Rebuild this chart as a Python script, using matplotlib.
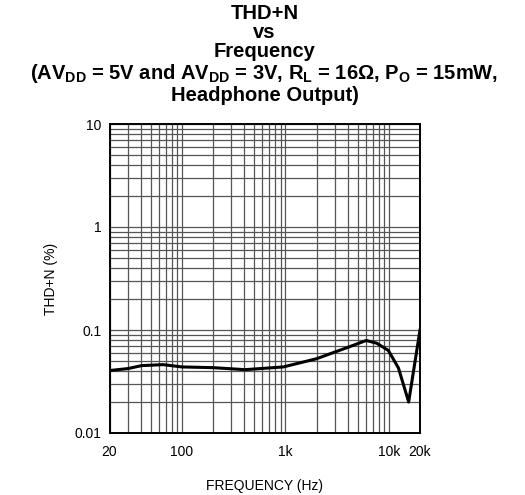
import matplotlib
matplotlib.use('Agg')
import matplotlib.pyplot as plt
from matplotlib.ticker import LogLocator, FixedLocator, FixedFormatter, NullFormatter
import numpy as np

plt.rcParams['font.family'] = ['Liberation Sans', 'DejaVu Sans']
plt.rcParams['mathtext.fontset'] = 'custom'
plt.rcParams['mathtext.rm'] = 'Liberation Sans'
plt.rcParams['mathtext.bf'] = 'Liberation Sans:bold'

# THD+N curve
freq_hz = [20, 30, 41, 66, 100, 200, 408, 956, 2000, 4230, 6040, 7620, 9880, 12380, 15540, 20000]
thd_pct = [0.0404, 0.0422, 0.0451, 0.0461, 0.0438, 0.0431, 0.0412, 0.0438, 0.0526, 0.0692,
           0.0791, 0.0745, 0.0634, 0.0428, 0.0200, 0.100]

x_ticks = [20, 100, 1000, 10000, 20000]
x_tick_labels = ['20', '100', '1k', '10k', '20k']
y_ticks = [0.01, 0.1, 1, 10]
y_tick_labels = ['0.01', '0.1', '1', '10']

title_lines = [
    'THD+N',
    'vs',
    'Frequency',
    r'(AV$_{\mathbf{DD}}$ = 5V and AV$_{\mathbf{DD}}$ = 3V, R$_{\mathbf{L}}$ = 16Ω, P$_{\mathbf{O}}$ = 15mW,',
    'Headphone Output)',
]

W, H = 525, 495
fig = plt.figure(figsize=(W / 100, H / 100), dpi=100)
ax = fig.add_axes([109.5 / W, 1 - 433 / H, 310.5 / W, 309 / H])

ax.set_xscale('log')
ax.set_yscale('log')
ax.set_xlim(20, 20000)
ax.set_ylim(0.01, 10)

ax.plot(freq_hz, thd_pct, color='black', linewidth=2.2, zorder=3)

ax.xaxis.set_major_locator(FixedLocator(x_ticks))
ax.xaxis.set_major_formatter(FixedFormatter(x_tick_labels))
ax.xaxis.set_minor_locator(LogLocator(base=10, subs=np.arange(2, 10)))
ax.xaxis.set_minor_formatter(NullFormatter())
ax.yaxis.set_major_locator(FixedLocator(y_ticks))
ax.yaxis.set_major_formatter(FixedFormatter(y_tick_labels))
ax.yaxis.set_minor_locator(LogLocator(base=10, subs=np.arange(2, 10)))
ax.yaxis.set_minor_formatter(NullFormatter())

ax.grid(True, which='both', color='#555555', linewidth=0.9)
ax.tick_params(which='both', length=0, labelsize=10, colors='black')
ax.tick_params(axis='x', pad=9)
ax.tick_params(axis='y', pad=6)
for s in ax.spines.values():
    s.set_linewidth(1.4)

ax.set_xlabel('FREQUENCY (Hz)', fontsize=10, labelpad=14)
ax.set_ylabel('THD+N (%)', fontsize=10, labelpad=12)

# title lines are packed tightly, as in the reference
baselines = [19, 38, 57, 79, 101]
for line, yb in zip(title_lines, baselines):
    fig.text(264.5 / W, 1 - yb / H, line, ha='center', va='baseline',
             fontsize=14.5, fontweight='bold')

fig.savefig('out.png', dpi=100)
